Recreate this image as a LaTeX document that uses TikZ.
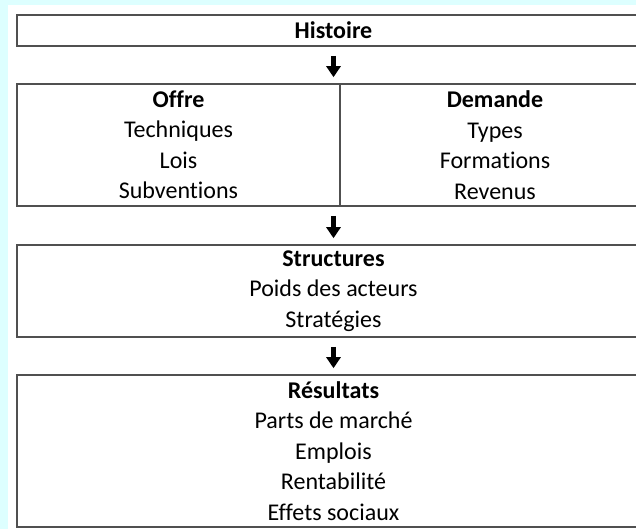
\documentclass[tikz,border=0pt]{standalone}
\usepackage{fontspec}
\setmainfont{Carlito}[Ligatures={NoCommon,NoContextual}]
\usetikzlibrary{arrows.meta}
\definecolor{bgcyan}{RGB}{221,255,255}
\definecolor{edgegray}{RGB}{80,80,80}
\begin{document}
\begin{tikzpicture}[x=1pt,y=-1pt,
  box/.style={draw=edgegray, line width=1.6pt, fill=white, inner sep=0pt,
    align=center, font=\fontsize{24}{30.5}\selectfont},
  flow/.style={line width=4.5pt, -{Triangle[width=14pt,length=11pt]},
    shorten <=9pt, shorten >=6pt}]
\useasboundingbox (0,0) rectangle (636,529);
\fill[bgcyan] (0,0) rectangle (636,529);
\fill[white] (8,5) rectangle (636,529);
\clip (0,0) rectangle (636,529);
\node[box, minimum width=633pt, minimum height=31pt] (hist) at (333.5,30.5) {\textbf{Histoire}};
\node[box, minimum width=323pt, minimum height=122pt] (offre) at (178.5,145)
  {\textbf{Offre}\\Techniques\\Lois\\Subventions};
\node[box, minimum width=310pt, minimum height=122pt] (demande) at (495,145)
  {\textbf{Demande}\\Types\\Formations\\Revenus};
\node[box, minimum width=633pt, minimum height=92pt] (struct) at (333.5,291)
  {\textbf{Structures}\\Poids des acteurs\\Stratégies};
\node[box, minimum width=633pt, minimum height=152pt] (result) at (333.5,451)
  {\textbf{Résultats}\\Parts de marché\\Emplois\\Rentabilité\\Effets sociaux};
\draw[flow] (hist.south) -- (hist.south |- offre.north);
\draw[flow] (hist.south |- offre.south) -- (struct.north);
\draw[flow] (struct.south) -- (result.north);
\end{tikzpicture}
\end{document}
